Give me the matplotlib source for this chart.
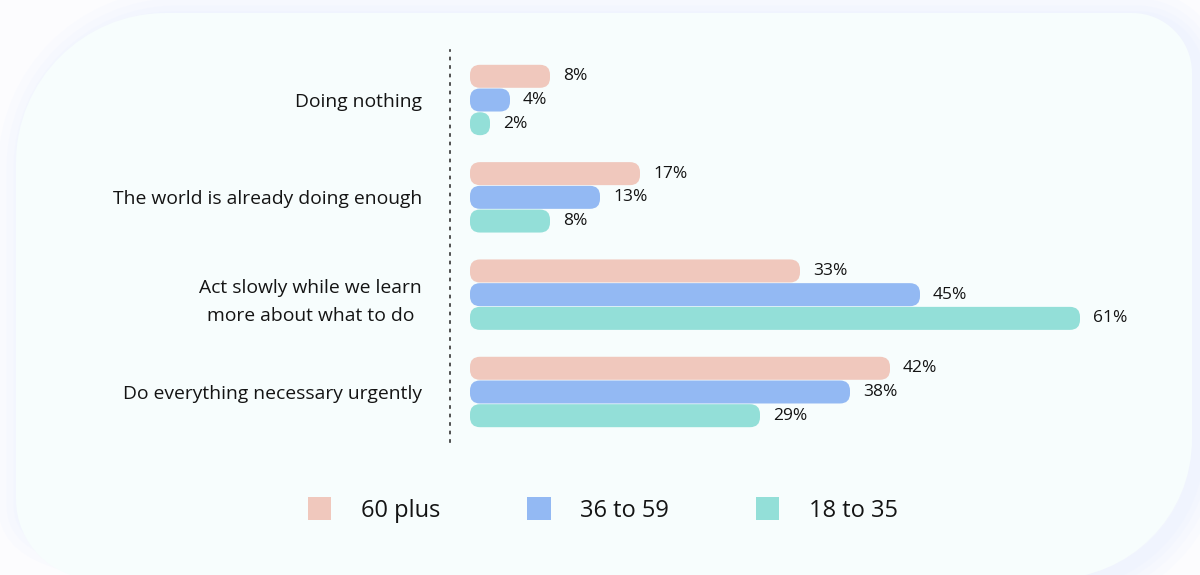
import matplotlib
matplotlib.use("Agg")
import matplotlib.pyplot as plt
from matplotlib.patches import FancyBboxPatch, Patch, PathPatch
from matplotlib.path import Path
from matplotlib.transforms import Affine2D, ScaledTranslation

categories = ["Doing nothing",
              "The world is already doing enough",
              "Act slowly while we learn\nmore about what to do",
              "Do everything necessary urgently"]
groups = ["60 plus", "36 to 59", "18 to 35"]
age_60_plus = [8, 17, 33, 42]
age_36_59 = [4, 13, 45, 38]
age_18_35 = [2, 8, 61, 29]
colors = ["#f0c8bd", "#93b9f3", "#93dfd8"]

W, H = 1200, 575
plt.rcParams['font.family'] = ['Open Sans', 'DejaVu Sans']
fig = plt.figure(figsize=(W / 100, H / 100), dpi=100)
fig.patch.set_facecolor('#fcfcfe')


def rounded_path(x0, y0, x1, y1, tl, tr, br, bl):
    # pixel coords, y pointing down
    k = 0.5523
    C = Path.CURVE4
    verts = [(x0 + tl, y0), (x1 - tr, y0),
             (x1 - tr + k * tr, y0), (x1, y0 + tr - k * tr), (x1, y0 + tr),
             (x1, y1 - br),
             (x1, y1 - br + k * br), (x1 - br + k * br, y1), (x1 - br, y1),
             (x0 + bl, y1),
             (x0 + bl - k * bl, y1), (x0, y1 - bl + k * bl), (x0, y1 - bl),
             (x0, y0 + tl),
             (x0, y0 + tl - k * tl), (x0 + tl - k * tl, y0), (x0 + tl, y0)]
    codes = [Path.MOVETO, Path.LINETO, C, C, C, Path.LINETO, C, C, C,
             Path.LINETO, C, C, C, Path.LINETO, C, C, C]
    return Path(verts, codes)


pix = Affine2D().scale(1 / W, -1 / H).translate(0, 1) + fig.transFigure

# soft shadow + panel (behind the axes)
shadow = rounded_path(26, 18, 1198, 584, 150, 60, 140, 80)
for lw in [40, 28, 18, 10]:
    fig.patches.append(PathPatch(shadow, fill=False, ec='#d6e6ff', lw=lw,
                                 alpha=0.07, transform=pix, zorder=-2))
panel = rounded_path(16, 13, 1192, 579, 150, 60, 140, 80)
fig.patches.append(PathPatch(panel, fc='#f7fdfd', ec='none', transform=pix,
                             zorder=-1))

ax = fig.add_axes([450 / W, (H - 442) / H, 720 / W, 392 / H])
ax.set_facecolor('none')
px_x, px_y = 10.0, 97.3
ax.set_xlim(-2, 70)
ax.set_ylim(3 + 50 / px_y, -50 / px_y)

bh = 23 / px_y
off = 23.7 / px_y
series = [age_60_plus, age_36_59, age_18_35]
for j, (vals, c) in enumerate(zip(series, colors)):
    for i, v in enumerate(vals):
        yc = i + (j - 1) * off
        ax.add_patch(FancyBboxPatch((0, yc - bh / 2), v, bh,
                                    boxstyle="round,pad=0,rounding_size=1.0",
                                    mutation_aspect=px_x / px_y,
                                    fc=c, ec='none'))
        ax.text(v + 1.3, yc, f"{v}%", va='center', ha='left',
                fontsize=12.5, color='#141414')

ax.set_yticks(range(len(categories)))
ax.set_yticklabels(categories, fontsize=13.9, color='#141414')
shift = ScaledTranslation(0, -2.5 / 72, fig.dpi_scale_trans)
for t in ax.get_yticklabels():
    t.set_multialignment('center')
    t.set_linespacing(1.75)
    t.set_transform(t.get_transform() + shift)
ax.tick_params(axis='y', length=0, pad=20)
ax.set_xticks([])
for s in ['top', 'right', 'bottom']:
    ax.spines[s].set_visible(False)
ax.spines['left'].set_linestyle((0, (1.2, 3.9)))
ax.spines['left'].set_linewidth(1.2)
ax.spines['left'].set_color('#333333')

handles = [Patch(facecolor=c, edgecolor='none', label=g) for g, c in zip(groups, colors)]
ax.legend(handles=handles, loc='center', bbox_to_anchor=(603 / W, (H - 510) / H),
          bbox_transform=fig.transFigure, ncol=3, frameon=False, fontsize=17,
          handlelength=0.98, handleheight=1.1, handletextpad=1.25,
          columnspacing=3.7, labelcolor='#141414')

fig.savefig('out.png', dpi=100, facecolor=fig.get_facecolor())
